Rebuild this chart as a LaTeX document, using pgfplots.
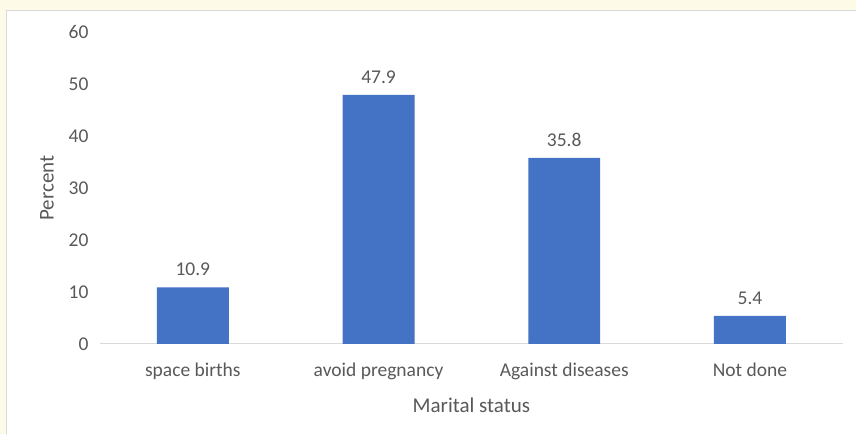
\documentclass[border=0pt]{standalone}
\usepackage{pgfplots}
\pgfplotsset{compat=1.18}
\usepackage{fontspec}
\setmainfont{Carlito}
\definecolor{bg}{HTML}{FEFAE8}
\definecolor{frame}{HTML}{D9D9D9}
\definecolor{txt}{HTML}{595959}
\definecolor{bar}{HTML}{4472C4}
\begin{document}
\begin{tikzpicture}[x=1pt,y=1pt]
\fill[bg] (0,0) rectangle (856,434);
\fill[white] (6.5,0) rectangle (856,423.5);
\draw[frame] (6.5,0) -- (6.5,423.5) -- (856,423.5);
\begin{axis}[
  at={(100pt,90pt)}, anchor=south west,
  scale only axis, width=743pt, height=312pt,
  ymin=0, ymax=60, ytick={0,10,...,60},
  xmin=-0.5, xmax=3.5,
  xtick=data,
  xticklabels={space births, avoid pregnancy, Against diseases, Not done},
  axis y line*=left, axis x line*=bottom,
  y axis line style={draw=none},
  x axis line style={draw=frame, line width=1pt, -},
  ytick style={draw=none}, xtick style={draw=none},
  ticklabel style={font=\fontsize{19.5}{22}\selectfont, text=txt},
  yticklabel style={xshift=-8pt, /pgf/number format/.cd, fixed, precision=0},
  xticklabel style={yshift=-16pt},
  /pgf/number format/assume math mode=true,
  xlabel={Marital status}, ylabel={Percent},
  label style={font=\fontsize{21}{24}\selectfont, text=txt},
  xlabel style={yshift=-11pt},
  ylabel style={at={(axis description cs:-0.0713,0.5)}, anchor=center},
  nodes near coords,
  nodes near coords style={font=\fontsize{19.5}{22}\selectfont, text=txt, yshift=8pt,
    /pgf/number format/.cd, fixed, fixed zerofill, precision=1},
]
\addplot[ybar, bar width=72pt, fill=bar, draw=none] coordinates {(0,10.9) (1,47.9) (2,35.8) (3,5.4)};
\end{axis}
\end{tikzpicture}
\end{document}
